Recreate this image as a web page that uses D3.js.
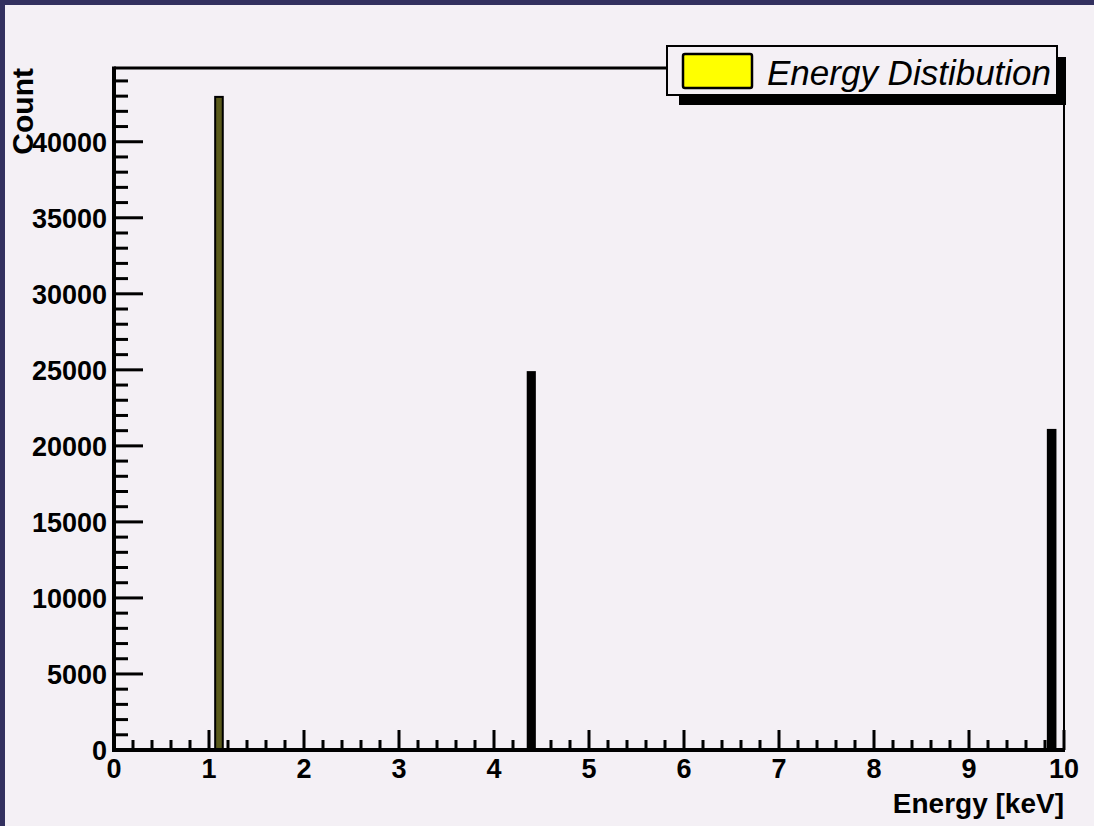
<!DOCTYPE html>
<html><head><meta charset="utf-8">
<script src="https://cdn.jsdelivr.net/npm/d3@7"></script>
<style>
html,body{margin:0;padding:0;background:#f4f0f5;}
svg{display:block;}
</style></head>
<body>
<svg id="chart" width="1094" height="826"></svg>
<script>
// Data
const binLow   = [1.065, 4.355, 9.83];
const binHigh  = [1.145, 4.43, 9.91];
const counts   = [42950, 24850, 21050];
const yTickValues = [0, 5000, 10000, 15000, 20000, 25000, 30000, 35000, 40000];
const xTickValues = [0, 1, 2, 3, 4, 5, 6, 7, 8, 9, 10];
const xDomain = [0, 10];
const yDomain = [0, 44850];
const legendLabel = "Energy Distibution";
const xTitle = "Energy [keV]";
const yTitle = "Count";

const svg = d3.select("#chart");
const W = 1094, H = 826;
const m = {left:114, right:1064, top:68, bottom:750};
const FONT = "Liberation Sans, Arial, sans-serif";

// background + border
svg.append("rect").attr("width", W).attr("height", H).attr("fill", "#33305f");
svg.append("rect").attr("x", 5).attr("y", 5).attr("width", W - 5).attr("height", H - 5).attr("fill", "#f4f0f5");

const x = d3.scaleLinear().domain(xDomain).range([m.left, m.right]);
const y = d3.scaleLinear().domain(yDomain).range([m.bottom, m.top]);

// bars
const bars = binLow.map((lo, i) => ({lo, hi: binHigh[i], c: counts[i], i}));
svg.append("g").selectAll("rect").data(bars).join("rect")
  .attr("x", d => x(d.lo))
  .attr("width", d => x(d.hi) - x(d.lo))
  .attr("y", d => y(d.c))
  .attr("height", d => y(0) - y(d.c))
  .attr("fill", d => d.i === 0 ? "#5a5a1c" : "#000")
  .attr("stroke", "#000").attr("stroke-width", 2);

// frame top/right
svg.append("line").attr("x1", m.left).attr("x2", m.right).attr("y1", m.top).attr("y2", m.top)
  .attr("stroke", "#000").attr("stroke-width", 3);
svg.append("line").attr("x1", m.right).attr("x2", m.right).attr("y1", m.top).attr("y2", m.bottom)
  .attr("stroke", "#000").attr("stroke-width", 2);

// x axis
const xMinor = d3.range(0, 50 + 1).map(k => k * 0.2).filter(v => Math.abs(v - Math.round(v)) > 1e-6);
const xAxisG = svg.append("g");
xAxisG.selectAll("line.minor").data(xMinor).join("line")
  .attr("x1", d => x(d)).attr("x2", d => x(d)).attr("y1", m.bottom).attr("y2", m.bottom - 10)
  .attr("stroke", "#000").attr("stroke-width", 3);
xAxisG.selectAll("line.major").data(xTickValues).join("line")
  .attr("x1", d => x(d)).attr("x2", d => x(d)).attr("y1", m.bottom).attr("y2", m.bottom - 20)
  .attr("stroke", "#000").attr("stroke-width", 3);
xAxisG.selectAll("text").data(xTickValues).join("text")
  .attr("x", d => x(d)).attr("y", 778).attr("text-anchor", "middle")
  .attr("font-family", FONT).attr("font-weight", "bold")
  .attr("font-size", 27).text(d => d);
xAxisG.append("line").attr("x1", m.left - 1.5).attr("x2", m.right + 1).attr("y1", m.bottom).attr("y2", m.bottom)
  .attr("stroke", "#000").attr("stroke-width", 4);

// y axis
const yMinor = d3.range(0, 45).map(k => k * 1000).filter(v => v % 5000 !== 0 && v <= yDomain[1]);
const yAxisG = svg.append("g");
yAxisG.selectAll("line.minor").data(yMinor).join("line")
  .attr("x1", m.left).attr("x2", m.left + 14).attr("y1", d => y(d)).attr("y2", d => y(d))
  .attr("stroke", "#000").attr("stroke-width", 3);
yAxisG.selectAll("line.major").data(yTickValues).join("line")
  .attr("x1", m.left).attr("x2", m.left + 29).attr("y1", d => y(d)).attr("y2", d => y(d))
  .attr("stroke", "#000").attr("stroke-width", 3);
yAxisG.selectAll("text").data(yTickValues).join("text")
  .attr("x", 107).attr("y", d => y(d) + 10).attr("text-anchor", "end")
  .attr("font-family", FONT).attr("font-weight", "bold")
  .attr("font-size", 27).text(d => d);
yAxisG.append("line").attr("x1", m.left).attr("x2", m.left).attr("y1", m.top - 1.5).attr("y2", m.bottom + 2)
  .attr("stroke", "#000").attr("stroke-width", 4);

// axis titles
svg.append("text").attr("x", 1064).attr("y", 813).attr("text-anchor", "end")
  .attr("font-family", FONT).attr("font-weight", "bold")
  .attr("font-size", 28).text(xTitle);
svg.append("text").attr("transform", "translate(33,68) rotate(-90)").attr("text-anchor", "end")
  .attr("font-family", FONT).attr("font-weight", "bold")
  .attr("font-size", 30).text(yTitle);

// legend
const lg = svg.append("g");
lg.append("rect").attr("x", 679).attr("y", 57).attr("width", 387).attr("height", 48).attr("fill", "#000");
lg.append("rect").attr("x", 667).attr("y", 46).attr("width", 390).attr("height", 49)
  .attr("fill", "#f4f0f5").attr("stroke", "#000").attr("stroke-width", 2);
lg.append("rect").attr("x", 683).attr("y", 54).attr("width", 69).attr("height", 34).attr("rx", 2)
  .attr("fill", "#ffff00").attr("stroke", "#000").attr("stroke-width", 2.5);
lg.append("text").attr("x", 767).attr("y", 85)
  .attr("font-family", FONT).attr("font-style", "italic")
  .attr("font-size", 35).text(legendLabel);
</script>
</body></html>
